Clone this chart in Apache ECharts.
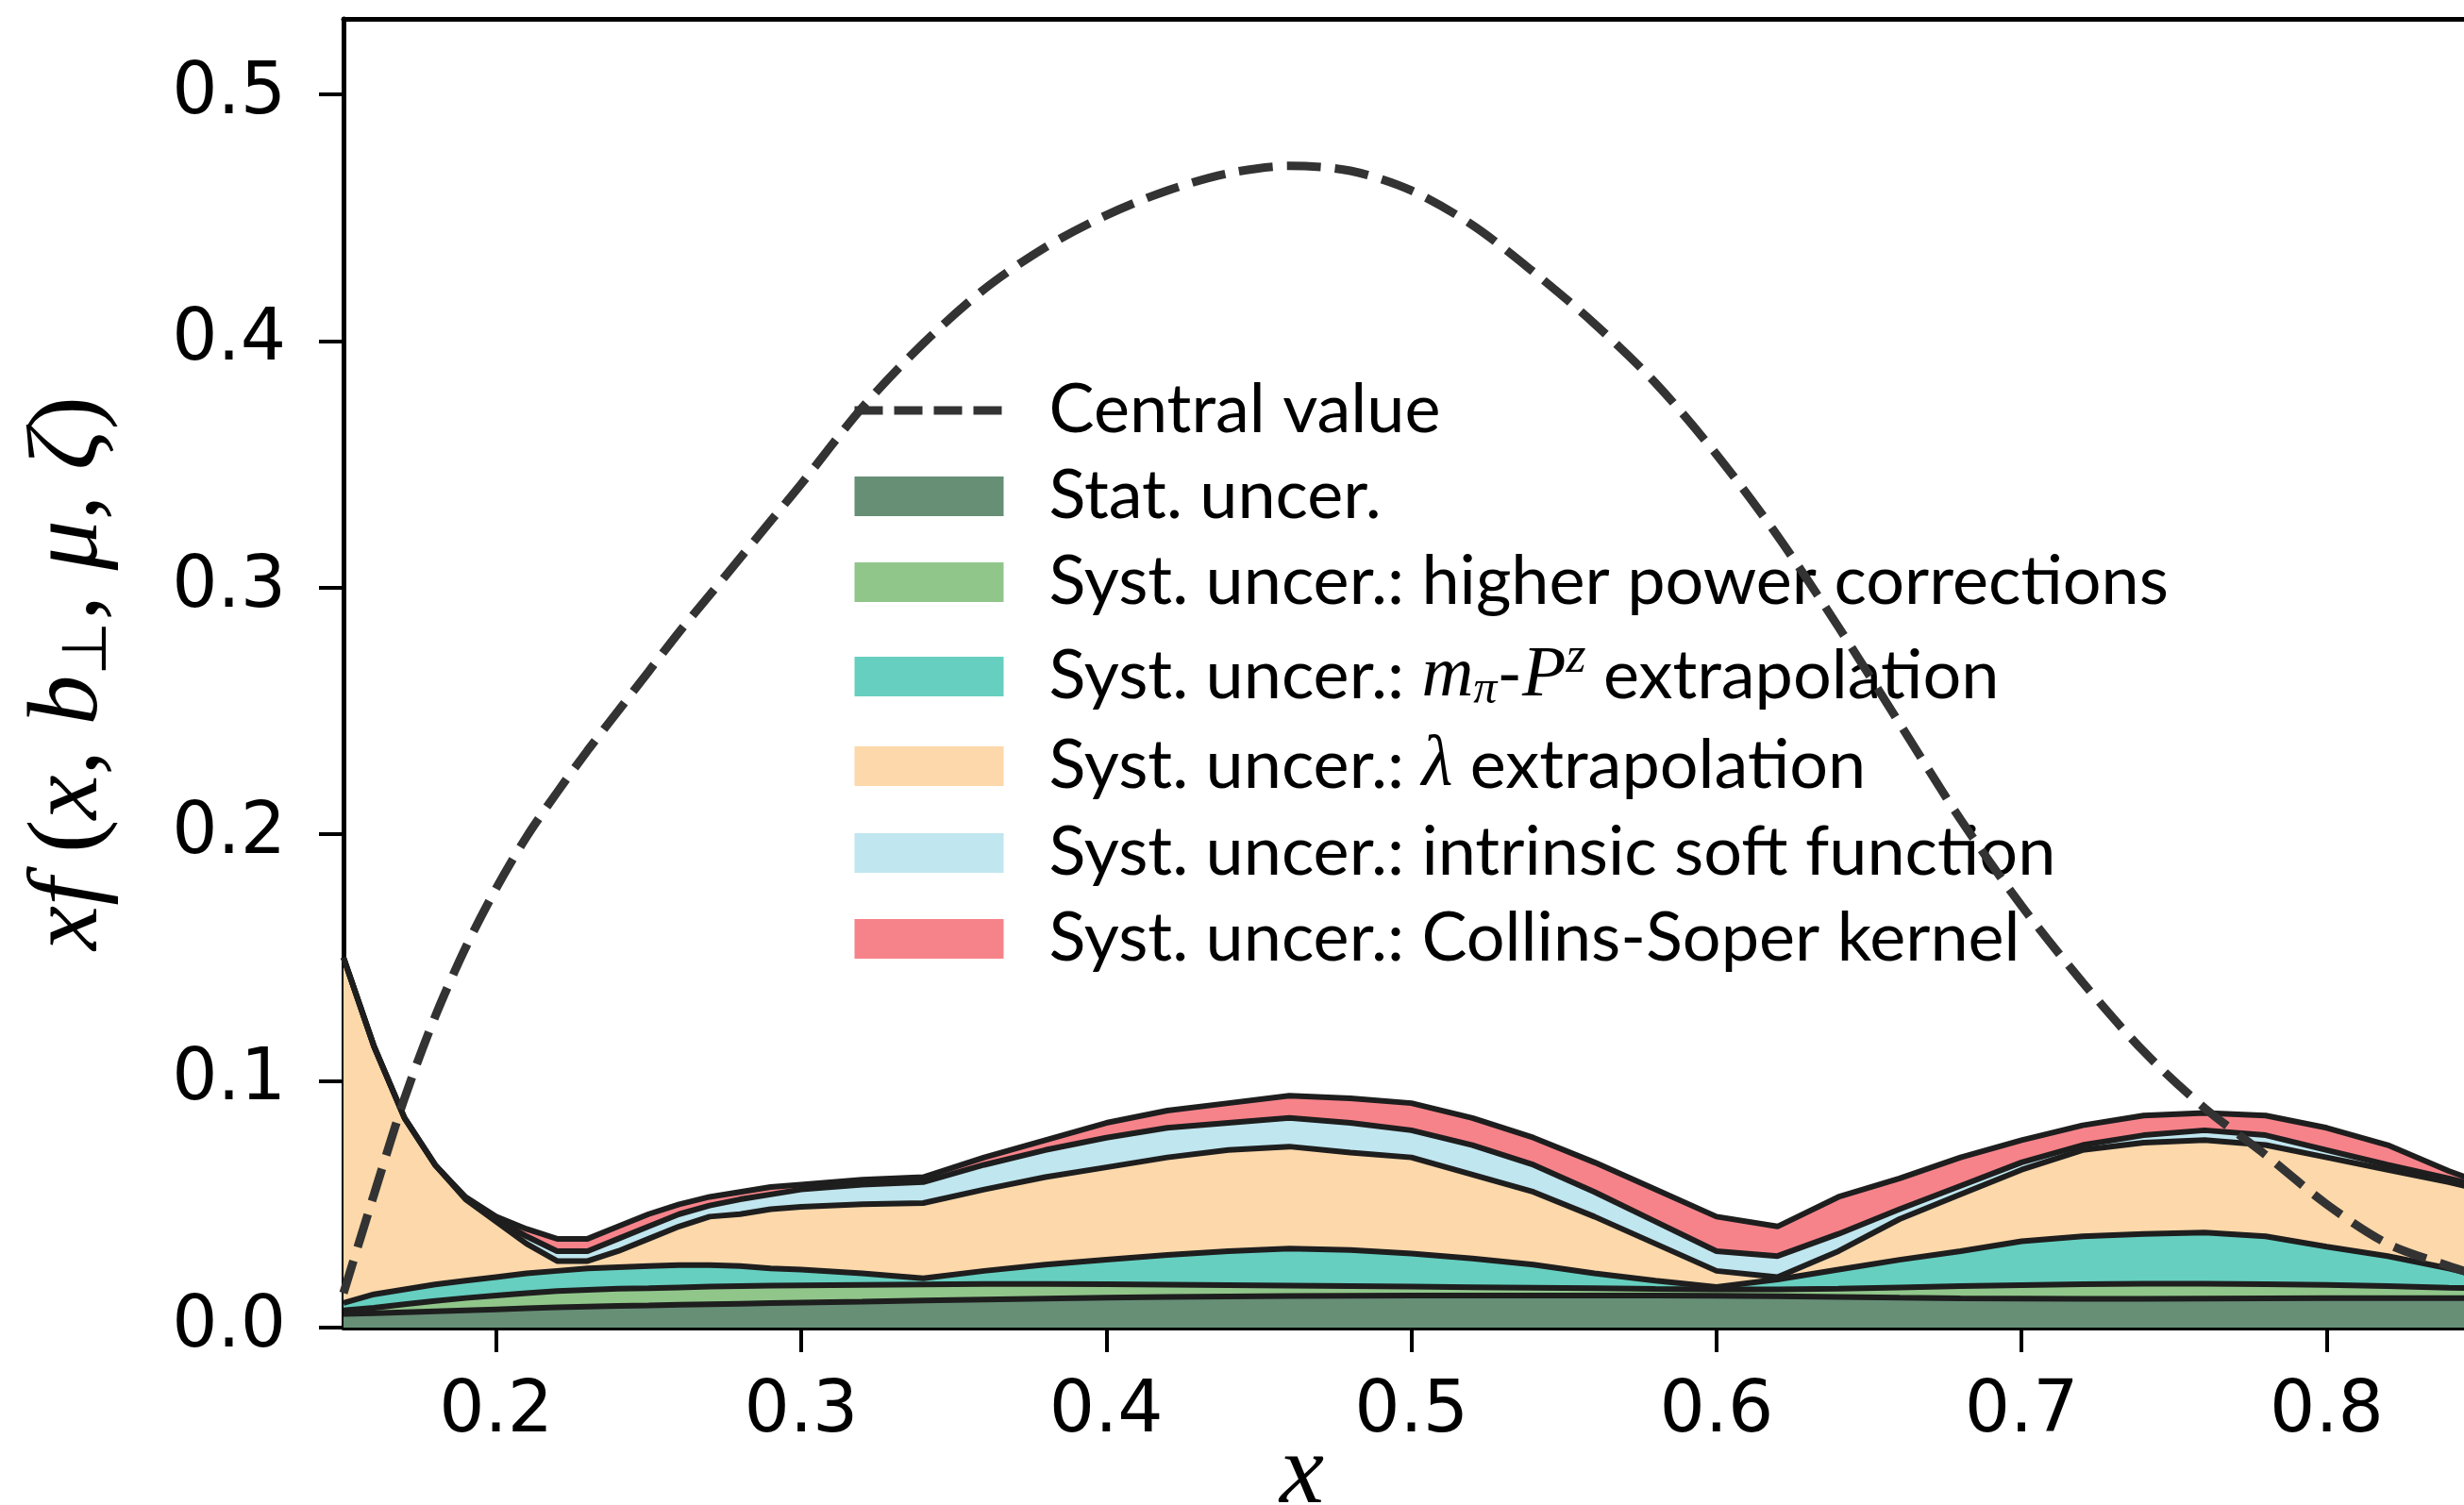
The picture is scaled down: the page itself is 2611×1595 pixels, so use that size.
<!DOCTYPE html>
<html>
<head>
<meta charset="utf-8">
<script src="https://cdn.jsdelivr.net/npm/echarts@6/dist/echarts.min.js"></script>
<style>
html,body{margin:0;padding:0;background:#fff;}
#chart{width:2611px;height:1595px;}
</style>
</head>
<body>
<div id="chart"></div>
<script>
// ---- data ----
const xs = [0.15,0.16,0.17,0.18,0.19,0.20,0.21,0.22,0.23,0.24,0.25,0.26,0.27,0.28,0.29,0.30,0.32,0.34,0.36,0.38,0.40,0.42,0.44,0.46,0.48,0.50,0.52,0.54,0.56,0.58,0.60,0.62,0.64,0.66,0.68,0.70,0.72,0.74,0.76,0.78,0.80,0.82,0.84,0.85];

const centralValue = [0.014,0.054,0.093,0.126,0.154,0.178,0.199,0.217,0.234,0.250,0.266,0.282,0.297,0.312,0.327,0.342,0.373,0.399,0.421,0.438,0.451,0.461,0.468,0.471,0.469,0.461,0.447,0.428,0.407,0.383,0.354,0.321,0.284,0.245,0.206,0.171,0.140,0.112,0.089,0.070,0.050,0.034,0.025,0.021];

// upper edge of each stacked uncertainty band
const statTop        = [0.0055,0.0058,0.0062,0.0066,0.0070,0.0074,0.0078,0.0082,0.0085,0.0088,0.0090,0.0093,0.0095,0.0097,0.0099,0.0101,0.0105,0.0110,0.0114,0.0118,0.0121,0.0124,0.0126,0.0128,0.0129,0.0130,0.0130,0.0130,0.0130,0.0130,0.0129,0.0127,0.0124,0.0121,0.0119,0.0118,0.0117,0.0117,0.0118,0.0119,0.0120,0.0120,0.0120,0.0120];
const higherPowerTop = [0.0070,0.0080,0.0095,0.0108,0.0120,0.0130,0.0140,0.0148,0.0153,0.0158,0.0160,0.0163,0.0166,0.0168,0.0170,0.0171,0.0173,0.0175,0.0177,0.0177,0.0176,0.0174,0.0172,0.0170,0.0168,0.0166,0.0164,0.0162,0.0160,0.0157,0.0155,0.0155,0.0158,0.0163,0.0168,0.0172,0.0176,0.0178,0.0178,0.0176,0.0173,0.0168,0.0162,0.0160];
const mpiPzTop       = [0.0100,0.0135,0.0155,0.0175,0.0190,0.0205,0.0220,0.0230,0.0240,0.0245,0.0250,0.0253,0.0253,0.0250,0.0240,0.0235,0.0220,0.0200,0.0230,0.0255,0.0275,0.0295,0.0310,0.0320,0.0315,0.0300,0.0280,0.0255,0.0220,0.0190,0.0165,0.0195,0.0235,0.0275,0.0310,0.0350,0.0370,0.0380,0.0385,0.0370,0.0328,0.0290,0.0240,0.0210];
const lambdaTop      = [0.150,0.114,0.085,0.066,0.052,0.043,0.034,0.027,0.027,0.031,0.036,0.041,0.045,0.046,0.048,0.049,0.050,0.0505,0.056,0.061,0.065,0.069,0.072,0.0734,0.071,0.069,0.062,0.055,0.045,0.034,0.023,0.0205,0.031,0.044,0.054,0.064,0.072,0.075,0.076,0.074,0.069,0.064,0.059,0.056];
const softTop        = [0.150,0.114,0.085,0.066,0.0525,0.044,0.037,0.031,0.031,0.036,0.041,0.046,0.0495,0.052,0.054,0.056,0.058,0.059,0.066,0.072,0.077,0.081,0.083,0.085,0.083,0.080,0.074,0.066,0.055,0.043,0.031,0.029,0.038,0.048,0.0575,0.067,0.074,0.078,0.080,0.078,0.072,0.066,0.0605,0.0575];
const csKernelTop    = [0.150,0.114,0.085,0.066,0.053,0.045,0.040,0.036,0.036,0.041,0.046,0.050,0.053,0.055,0.057,0.058,0.060,0.061,0.069,0.076,0.083,0.088,0.091,0.094,0.093,0.091,0.085,0.077,0.067,0.056,0.045,0.041,0.053,0.0605,0.069,0.076,0.082,0.086,0.087,0.086,0.081,0.074,0.0635,0.059];

const xTicks = [0.2,0.3,0.4,0.5,0.6,0.7,0.8];
const yTicks = [0.0,0.1,0.2,0.3,0.4,0.5];

const names = {
  central: 'Central value',
  stat: 'Stat. uncer.',
  hp: 'Syst. uncer.: higher power corrections',
  mpi: 'Syst. uncer.: m\u03c0-Pz extrapolation',
  lam: 'Syst. uncer.: \u03bb extrapolation',
  soft: 'Syst. uncer.: intrinsic soft function',
  cs: 'Syst. uncer.: Collins-Soper kernel'
};
const legendLabels = {};
legendLabels[names.mpi] = 'Syst. uncer.: {it|m}{sub|\u03c0}-{it|P}{sup|z} extrapolation';
legendLabels[names.lam] = 'Syst. uncer.: {it|\u03bb} extrapolation';

const colors = {
  stat: '#668f76', hp: '#91c68b', mpi: '#66cfc0', lam: '#fdd8aa', soft: '#c0e6ef', cs: '#f7838a'
};

// ---- chart ----
const pair = arr => xs.map((x, i) => [x, arr[i]]);
const edge = '#1e1e1e';
function band(name, color, arr, z) {
  return {
    name: name, type: 'line', data: pair(arr), symbol: 'none', z: z,
    color: color,
    lineStyle: {color: edge, width: 6},
    areaStyle: {color: color, opacity: 1, origin: 'start'},
    silent: true
  };
}

const chart = echarts.init(document.getElementById('chart'), null, {renderer: 'canvas'});
const tickFont = {fontFamily: 'DejaVu Sans', fontSize: 76, color: '#000'};
const mathRich = {
  it: {fontFamily: 'Liberation Serif', fontStyle: 'italic', fontSize: 106, color: '#000'},
  rm: {fontFamily: 'Liberation Serif', fontSize: 106, color: '#000'},
  sub: {fontFamily: 'Liberation Serif', fontSize: 66, color: '#000', padding: [42, 0, 0, 0]}
};

const option = {
  animation: false,
  backgroundColor: '#fff',
  grid: {left: 364, right: 0, top: 20, bottom: 188, containLabel: false, outerBoundsMode: 'none'},
  xAxis: [{
    type: 'value', min: 0.15, max: 0.845, position: 'bottom',
    name: '{it|x}', nameLocation: 'middle', nameGap: 104, nameMoveOverlap: false,
    nameTextStyle: {fontFamily: 'Liberation Serif', fontSize: 106, rich: mathRich, padding: [0, 216, 0, 0]},
    axisLine: {show: true, onZero: false, lineStyle: {color: '#000', width: 5}},
    axisTick: {show: true, length: 26, lineStyle: {color: '#000', width: 4}, customValues: xTicks},
    axisLabel: {show: true, margin: 52, customValues: xTicks, formatter: v => v.toFixed(1), ...tickFont},
    splitLine: {show: false}
  }, {
    type: 'value', min: 0.15, max: 0.845, position: 'top',
    axisLine: {show: true, onZero: false, lineStyle: {color: '#000', width: 5}},
    axisTick: {show: false}, axisLabel: {show: false}, splitLine: {show: false}
  }],
  yAxis: {
    type: 'value', min: 0, max: 0.5306,
    name: '{it|xf} {rm|(}{it|x}{rm|,} {it|b}{sub|\u22a5}{rm|,} {it|\u03bc}{rm|,} {it|\u03b6}{rm|)}',
    nameLocation: 'middle', nameRotate: 90, nameGap: 236, nameMoveOverlap: false,
    nameTextStyle: {fontFamily: 'Liberation Serif', fontSize: 106, rich: mathRich},
    axisLine: {show: true, onZero: false, lineStyle: {color: '#000', width: 5}},
    axisTick: {show: true, length: 26, lineStyle: {color: '#000', width: 4}, customValues: yTicks},
    axisLabel: {show: true, margin: 61, customValues: yTicks, formatter: v => v.toFixed(1), ...tickFont},
    splitLine: {show: false}
  },
  legend: {
    orient: 'vertical', left: 896, top: 393,
    itemWidth: 158, itemHeight: 42, itemGap: 17,
    selectedMode: false,
    textStyle: {
      fontFamily: 'Lato', fontSize: 72, lineHeight: 74, color: '#000', padding: [0, 0, 0, 43],
      rich: {
        it: {fontFamily: 'Liberation Serif', fontStyle: 'italic', fontSize: 76, color: '#000'},
        sub: {fontFamily: 'Liberation Serif', fontStyle: 'italic', fontSize: 50, color: '#000', padding: [30, 0, 0, 0]},
        sup: {fontFamily: 'Liberation Serif', fontStyle: 'italic', fontSize: 54, color: '#000', padding: [0, 0, 38, 0]}
      }
    },
    formatter: name => legendLabels[name] || name,
    data: [
      {name: names.central, itemStyle: {opacity: 0}, lineStyle: {color: '#333333', width: 9, type: [30, 12], opacity: 1}},
      {name: names.stat, icon: 'rect', itemStyle: {color: colors.stat, borderWidth: 0}},
      {name: names.hp, icon: 'rect', itemStyle: {color: colors.hp, borderWidth: 0}},
      {name: names.mpi, icon: 'rect', itemStyle: {color: colors.mpi, borderWidth: 0}},
      {name: names.lam, icon: 'rect', itemStyle: {color: colors.lam, borderWidth: 0}},
      {name: names.soft, icon: 'rect', itemStyle: {color: colors.soft, borderWidth: 0}},
      {name: names.cs, icon: 'rect', itemStyle: {color: colors.cs, borderWidth: 0}}
    ]
  },
  series: [
    band(names.cs, colors.cs, csKernelTop, 2),
    band(names.soft, colors.soft, softTop, 2),
    band(names.lam, colors.lam, lambdaTop, 2),
    band(names.mpi, colors.mpi, mpiPzTop, 2),
    band(names.hp, colors.hp, higherPowerTop, 2),
    band(names.stat, colors.stat, statTop, 2),
    {
      name: names.central, type: 'line', data: pair(centralValue), symbol: 'none', z: 5,
      smooth: 0.3, color: '#333333',
      lineStyle: {color: '#333333', width: 9, type: [36, 15]},
      silent: true
    }
  ]
};
chart.setOption(option);
</script>
</body>
</html>
